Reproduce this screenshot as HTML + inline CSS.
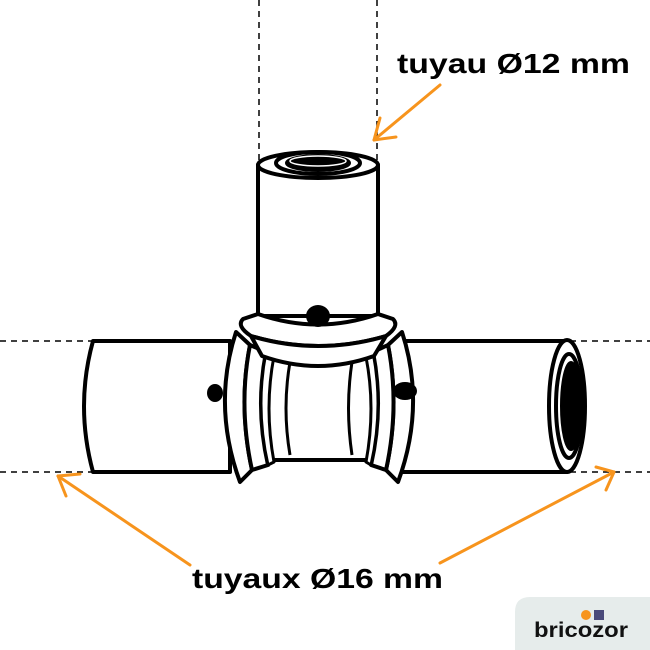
<!DOCTYPE html>
<html><head><style>
html,body{margin:0;padding:0;background:#fff;width:650px;height:650px;overflow:hidden}
</style></head><body>
<svg width="650" height="650" viewBox="0 0 650 650" xmlns="http://www.w3.org/2000/svg" style="position:absolute;left:0;top:0">
<g stroke="#000" stroke-width="1.5" stroke-dasharray="6,5" fill="none">
<line x1="259" y1="0" x2="259" y2="165"/>
<line x1="377" y1="0" x2="377" y2="165"/>
<line x1="0" y1="341" x2="95" y2="341"/>
<line x1="0" y1="472" x2="95" y2="472"/>
<line x1="570" y1="341" x2="650" y2="341"/>
<line x1="570" y1="472" x2="650" y2="472"/>
</g>
<g stroke="#000" stroke-width="4" fill="#fff" stroke-linejoin="round">
<path d="M93 341 L230 341 L230 472 L93 472 Q75 406 93 341 Z"/>
<path d="M400 341 L567 341 L567 472 L400 472 Z"/>
<ellipse cx="567" cy="406" rx="18" ry="66"/>
<ellipse cx="569" cy="406" rx="13" ry="52"/>
<ellipse cx="571" cy="406" rx="10" ry="44" fill="#000" stroke-width="2"/>
<path d="M262 355 L385 355 Q372 408 385 460 L262 460 Q275 408 262 355 Z"/>
<path d="M290 362 Q282 408 290 455" fill="none" stroke-width="3"/>
<path d="M352 362 Q345 408 352 455" fill="none" stroke-width="3"/>
<path d="M236 332 L250 345 Q238 406 252 470 L240 482 Q212 406 236 332 Z"/>
<path d="M250 345 L266 352 Q255 408 268 465 L252 470 Q238 406 250 345 Z"/>
<path d="M266 352 L274 356 Q264 408 274 462 L268 465 Q255 408 266 352Z" stroke-width="3"/>
<path d="M402 332 L388 345 Q400 406 386 470 L398 482 Q426 406 402 332 Z"/>
<path d="M388 345 L373 352 Q384 408 371 465 L386 470 Q400 406 388 345Z"/>
<path d="M373 352 L366 357 Q376 408 366 462 L371 465 Q384 408 373 352Z" stroke-width="3"/>
<path d="M258 165 L258 316 L378 316 L378 165 Z"/>
<ellipse cx="318" cy="165" rx="60" ry="13"/>
<ellipse cx="318" cy="163" rx="42" ry="11"/>
<ellipse cx="318" cy="163" rx="32" ry="8" fill="#000" stroke-width="2"/>
<ellipse cx="318" cy="161" rx="28" ry="5" fill="none" stroke="#fff" stroke-width="1.5"/>
<path d="M258 314 Q318 335 378 314 L393 319 Q400 326 386 336 Q318 356 251 336 Q236 326 243 319 Z"/>
<path d="M251 336 Q318 356 386 336 L374 356 Q318 376 262 356 Z"/>
</g>
<g fill="#000">
<ellipse cx="318" cy="316" rx="12" ry="11"/>
<ellipse cx="215" cy="393" rx="8" ry="9"/>
<ellipse cx="405" cy="391" rx="12" ry="9"/>
</g>
<g stroke="#f7941d" stroke-width="3" fill="none" stroke-linecap="round" stroke-linejoin="round">
<line x1="440" y1="85" x2="374" y2="140"/>
<polyline points="380,118 374,140 396,137"/>
<line x1="190" y1="565" x2="58" y2="476"/>
<polyline points="66,496 58,476 80,474"/>
<line x1="440" y1="563" x2="614" y2="472"/>
<polyline points="596,467 614,472 606,490"/>
</g>
<g font-family="Liberation Sans, sans-serif" font-weight="bold" fill="#000">
<text x="397" y="73" font-size="28" textLength="233" lengthAdjust="spacingAndGlyphs">tuyau Ø12 mm</text>
<text x="192" y="588" font-size="28" textLength="251" lengthAdjust="spacingAndGlyphs">tuyaux Ø16 mm</text>
</g>
<path d="M515 650 L515 612 Q515 597 530 597 L650 597 L650 650 Z" fill="#e6eceb"/>
<circle cx="586" cy="615" r="5" fill="#f7941d"/>
<rect x="594" y="610" width="10" height="10" fill="#4a4a7a"/>
<text x="534" y="637" font-family="Liberation Sans, sans-serif" font-weight="bold" font-size="21" fill="#111" textLength="94" lengthAdjust="spacingAndGlyphs">bricozor</text>
</svg>
</body></html>
